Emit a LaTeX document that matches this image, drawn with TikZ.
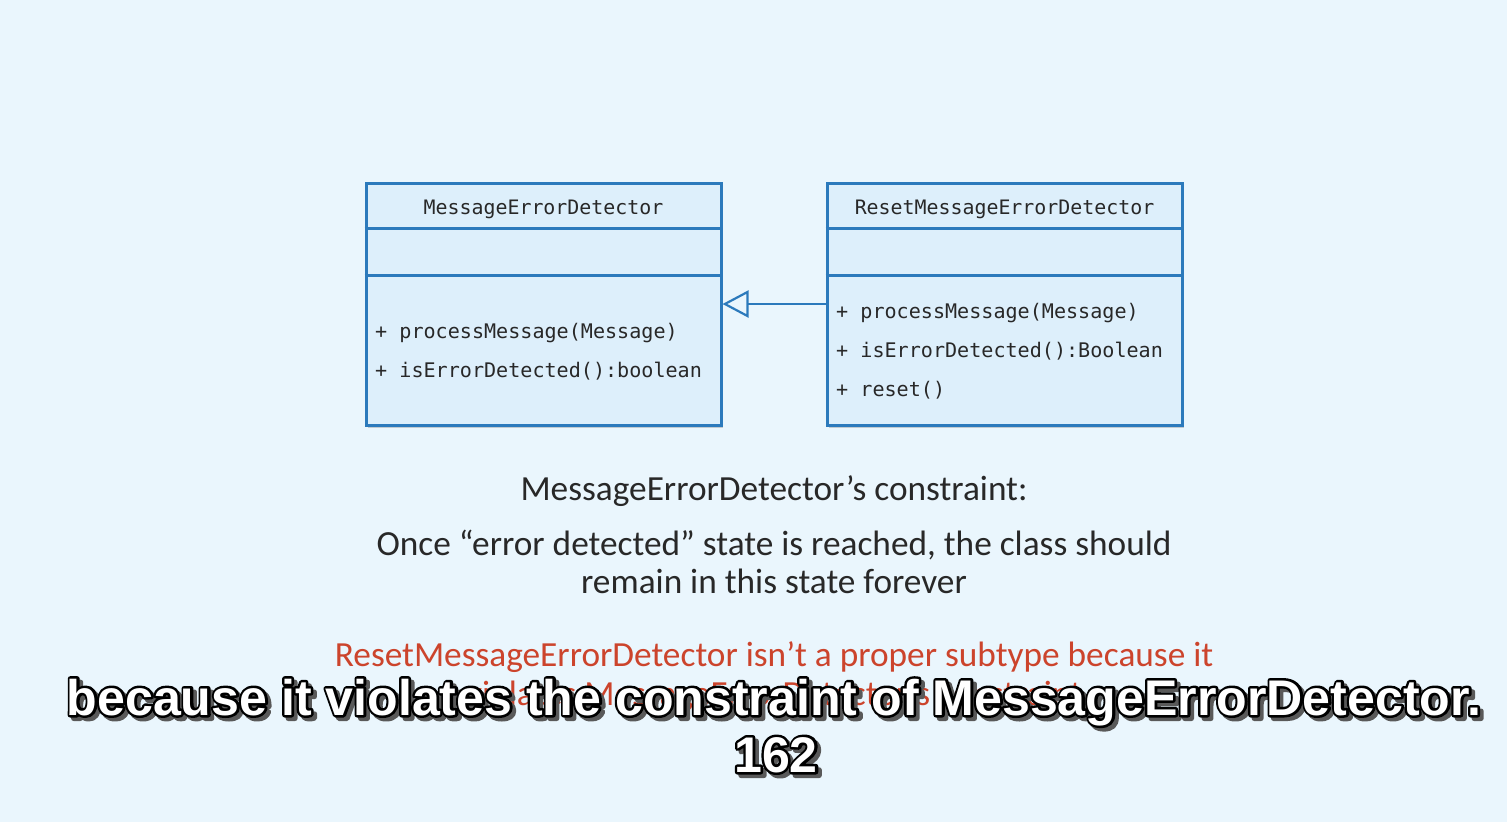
\documentclass[tikz,border=0pt]{standalone}
\usepackage{fontspec}
\setmainfont{Carlito}
\newfontfamily\monof{DejaVu Sans Mono}
\newfontfamily\subf{Liberation Sans}
\usetikzlibrary{arrows.meta,shadows}
\definecolor{bg}{RGB}{234,246,253}
\definecolor{boxfill}{RGB}{221,239,251}
\definecolor{boxline}{RGB}{44,122,188}
\definecolor{txt}{RGB}{40,40,40}
\definecolor{redtxt}{RGB}{204,68,44}
\definecolor{subshade}{RGB}{90,90,90}
% text render modes: 2 = fill and stroke, 1 = stroke only
\newcommand\strk[4]{\special{pdf:literal direct #1 RG 1 j 1 J #2 Tr #3 w}#4\special{pdf:literal direct 0 Tr}}
\newcommand\subtext[1]{%
  \rlap{\raisebox{-3.5pt}{\kern3.5pt\color{subshade}\strk{0.35 0.35 0.35}{2}{5}{#1}}}%
  \rlap{\color{black}\strk{0 0 0}{1}{5}{#1}}%
  {\color{white}#1}}
\begin{document}
\begin{tikzpicture}[x=1pt,y=-1pt,
  umlbox/.style={draw=boxline, fill=boxfill, line width=3pt, minimum width=355pt, minimum height=242pt, inner sep=0pt,
    drop shadow={shadow xshift=1.5pt, shadow yshift=-2.5pt, opacity=0.3, fill=black!60}},
  sep/.style={draw=boxline, line width=2.8pt},
  umltitle/.style={font=\monof\fontsize{19.9}{24}\selectfont, text=txt, inner sep=0pt, anchor=base},
  umlop/.style={font=\monof\fontsize{20.1}{24}\selectfont, text=txt, inner sep=0pt, anchor=base west},
  captxt/.style={font=\fontsize{35.3}{42}\selectfont, text=txt, inner sep=0pt, anchor=base},
  redcap/.style={font=\fontsize{35.3}{42}\selectfont, text=redtxt, inner sep=0pt, anchor=base},
  subt/.style={font=\subf\bfseries\fontsize{50.1}{58}\selectfont, inner sep=0pt, anchor=base},
  inherit/.style={draw=boxline, line width=2.2pt, -{Triangle[open, length=26pt, width=27pt, line width=2.2pt]}}
]
\useasboundingbox[fill=bg] (0,0) rectangle (1507,822);

% classes
\node[umlbox] (A) at (543.5,304) {};
\node[umlbox] (B) at (1004.5,304) {};
\foreach \n in {A,B}{
  \draw[sep] ([yshift=-47pt]\n.north west) -- ([yshift=-47pt]\n.north east);
  \draw[sep] ([yshift=-94pt]\n.north west) -- ([yshift=-94pt]\n.north east);
}
\node[umltitle] (At) at (543.5,214) {MessageErrorDetector};
\node[umltitle] (Bt) at (1004.5,214) {ResetMessageErrorDetector};

\node[umlop] (A1) at (375,338) {+ processMessage(Message)};
\node[umlop] (A2) at (375,377) {+ isErrorDetected():boolean};

\node[umlop] (B1) at (836,318) {+ processMessage(Message)};
\node[umlop] (B2) at (836,357) {+ isErrorDetected():Boolean};
\node[umlop] (B3) at (836,396) {+ reset()};

\draw[inherit] (B.west) -- (A.east);

% captions
\node[captxt] (c1) at (774,500) {MessageErrorDetector’s constraint:};
\node[captxt] (c2) at (774,555) {Once “error detected” state is reached, the class should};
\node[captxt] (c3) at (774,593) {remain in this state forever};
\node[redcap] (r1) at (774,666) {ResetMessageErrorDetector isn’t a proper subtype because it};
\node[redcap] (r2) at (774,705) {violates MessageErrorDetector’s constraint};

% subtitle overlay
\node[subt] (s1) at (774,715) {\subtext{because it violates the constraint of MessageErrorDetector.}};
\node[subt] (s2) at (776,772) {\subtext{162}};
\end{tikzpicture}
\end{document}
